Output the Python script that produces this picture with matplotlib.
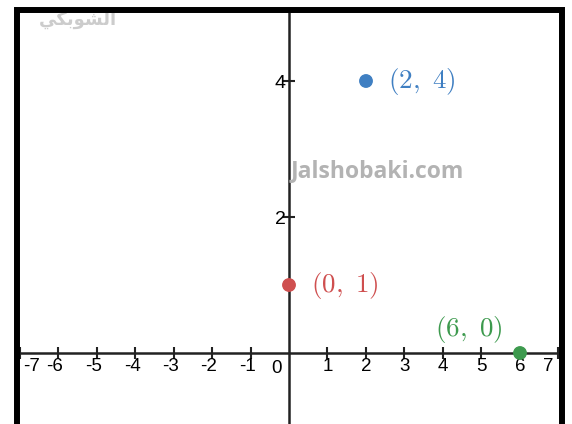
import matplotlib
matplotlib.use("Agg")
import matplotlib.pyplot as plt
from matplotlib.patches import Rectangle
from matplotlib.transforms import ScaledTranslation

plt.rcParams['mathtext.fontset'] = 'cm'

# data
points_x = [2, 0, 6]
points_y = [4, 1, 0]
point_labels = ["$(2,\\ 4)$", "$(0,\\ 1)$", "$(6,\\ 0)$"]
point_colors = ["#3f7fc2", "#cf4f4f", "#3d9a4e"]
x_ticks = [-7, -6, -5, -4, -3, -2, -1, 1, 2, 3, 4, 5, 6, 7]
y_ticks = [2, 4]

W, H = 572, 424
fig = plt.figure(figsize=(W / 100, H / 100), dpi=100)
ax = fig.add_axes([19 / W, 0, 540 / W, (H - 13) / H])
ax.set_xlim(-7.013, 7.013)
ax.set_ylim(-1.044, 5.0)

for s in ['top', 'right']:
    ax.spines[s].set_visible(False)
ax.spines['left'].set_position(('data', 0))
ax.spines['bottom'].set_position(('data', 0))
for s in ['left', 'bottom']:
    ax.spines[s].set_linewidth(1.8)
    ax.spines[s].set_color('#222222')

ax.set_xticks(x_ticks)
ax.set_xticklabels([str(v) for v in x_ticks], fontfamily='Liberation Sans', fontsize=13.5)
ax.set_yticks(y_ticks)
ax.set_yticklabels([str(v) for v in y_ticks], fontfamily='Liberation Sans', fontsize=14)
ax.tick_params(axis='x', direction='inout', length=9, width=1.5, color='#222222', pad=-1)
ax.tick_params(axis='y', direction='inout', length=9, width=1.5, color='#222222', pad=-2)

# nudge labels
for lab, v in zip(ax.get_xticklabels(), x_ticks):
    dx = -3
    if v == -7:
        dx = 12
    elif v == 7:
        dx = -10
    elif v > 0:
        dx = 0
    lab.set_transform(lab.get_transform() + ScaledTranslation(dx / 100, 0, fig.dpi_scale_trans))

ax.annotate('0', (0, 0), xytext=(-13, -15), textcoords='offset pixels',
            ha='center', va='center', fontsize=13.5, fontfamily='Liberation Sans')

# points
ax.scatter(points_x, points_y, s=80, c=point_colors, zorder=5, clip_on=False)
offsets = [(22, 0, 'left'), (22, 0, 'left'), (-51, 24, 'center')]
for x, y, lab, c, (dx, dy, ha) in zip(points_x, points_y, point_labels, point_colors, offsets):
    ax.annotate(lab, (x, y), xytext=(dx, dy), textcoords='offset pixels',
                ha=ha, va='center', fontsize=19.5, color=c)

# watermarks
fig.text(377 / W, 1 - 171 / H, "Jalshobaki.com", fontsize=16.5, fontweight='bold',
         fontfamily='Open Sans', color='#b3b3b3', ha='center', va='center')
fig.text(78 / W, 1 - 20 / H, "\uFEF2\uFEDC\uFE91\uFEEE\uFEB8\uFEDF\uFE8D", fontsize=13,
         fontweight='bold', fontfamily='DejaVu Sans', color='#cccccc', ha='center', va='center')

# frame
fig.patches.append(Rectangle((16.5 / W, -0.1), (562 - 16.5) / W, 1.1 - 10 / H,
                             transform=fig.transFigure, fill=False,
                             linewidth=4.3, edgecolor='black', zorder=10))

fig.savefig("out.png", dpi=100)
